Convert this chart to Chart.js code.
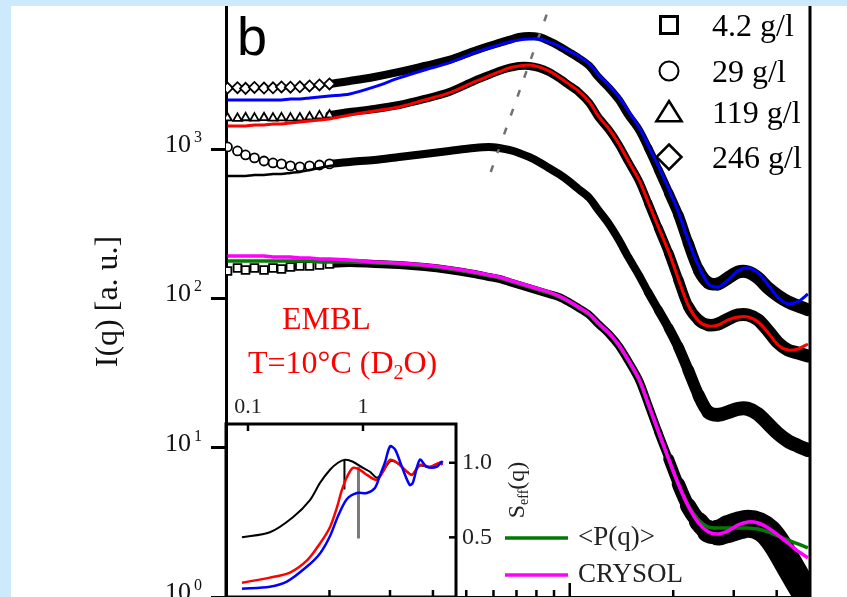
<!DOCTYPE html>
<html>
<head>
<meta charset="utf-8">
<title>I(q) – EMBL, T=10°C (D2O)</title>
<script src="https://cdn.jsdelivr.net/npm/chart.js@4/dist/chart.umd.min.js"></script>
<style>
  html, body { margin: 0; padding: 0; width: 847px; height: 597px; overflow: hidden; background: #cdeafc; }
  #panel { position: absolute; left: 11px; top: 6px; width: 836px; height: 591px; background: #fff; }
  #inset { position: absolute; left: 180px; top: 380px; }
  #main  { position: absolute; left: 11px; top: 6px; }
</style>
</head>
<body>
<div id="panel"></div>
<canvas id="inset" width="400" height="240"></canvas>
<canvas id="main" width="836" height="620"></canvas>
<script>
// ---- scattering vector q (nm^-1), shared by measured curves and models ----
const q = [0.101,0.108,0.114,0.121,0.129,0.137,0.145,0.154,0.164,0.175,0.187,0.200,
           0.229,0.270,0.319,0.378,0.446,0.527,
           0.582,0.623,0.666,0.712,0.761,0.813,0.869,0.929,0.993,1.06,1.14,
           1.21,1.30,1.39,1.48,1.59,1.69,1.81,1.94,2.07,2.21,
           2.37,2.53,2.70,2.89,3.09,3.30,3.53,3.78,4.04,4.31,4.61,4.93];

// ---- measured intensities I(q) (a.u.) ----
const i246 = [2560,2575,2550,2585,2560,2570,2606,2595,2610,2647,2688,2729,
              2858,3040,3284,3602,3952,4541,
              4904,5136,5379,5634,5721,5634,5297,4904,4471,4076,3602,
              3040,2566,2133,1692,1342,1017,724,508,362,235,
              155,127,125,137,150,150,137,117,104,95,89,84];
const i119 = [1616,1605,1620,1610,1622,1612,1618,1610,1616,1641,1667,1692,
              1772,1856,1974,2166,2413,2858,
              3135,3335,3493,3602,3602,3493,3284,2994,2688,2413,2036,
              1641,1342,1065,820,611,436,296,201,133,88.9,
              71.7,66.3,67.4,72.8,77.4,77.4,71.7,60.5,50.3,45.1,43.1,41.1];
const i29  = [1033,971,913,872,832,807,795,771,759,771,782,795,
              820,845,885,927,971,1017,
              1033,1017,986,942,885,820,747,681,611,540,471,
              391,315,246,189,143,110,83.6,63.3,47.3,33.2,
              22.5,17.3,16.6,17.3,18.2,18.2,16.8,14.4,12.4,11.1,10.3,9.65];
const i4   = [152.6,159.8,155.0,159.8,155.0,159.8,157.4,162.3,164.8,164.8,167.4,170.0,
              172.6,170.0,167.4,162.3,155.0,145.7,
              139.1,134.9,128.8,122.9,117.4,112.1,107.0,102.2,94.6,86.3,77.4,
              67.4,57.8,48.0,38.1,28.4,19.6,12.7,8.40,5.71,4.07,
              3.20,2.75,2.70,2.85,3.00,3.10,3.00,2.70,2.20,1.70,1.30,1.0];

// ---- model curves ----
const fit246 = [2133,2133,2133,2133,2133,2133,2133,2166,2166,2199,2234,2268,
                2339,2606,2994,3386,3774,4403,
                4756,4981,5216,5379,5463,5463,5216,4904,4541,4204,3715,
                3159,2688,2234,1800,1406,1065,771,540,379,246,
                165,125,119,133,153,160,148,123,101,92,95,107];
const fit119 = [1428,1428,1428,1450,1450,1473,1473,1495,1519,1542,1566,1591,
                1692,1800,1914,2133,2375,2814,
                3087,3284,3493,3602,3659,3548,3335,3040,2729,2450,2068,
                1667,1363,1082,832,621,442,301,205,135,90.3,
                70.6,65.3,66.3,71.7,75.1,75.1,69.5,58.7,48.7,45.1,45.8,49.5];
const fit29  = [660,660,660,671,671,681,681,692,703,724,747,771,
                807,845,885,927,971,1017,
                1033,1017,986,942,885,820,747,681,611,540,471,
                391,315,246,189,143,110,83.6,63.3,47.3,33.2,
                22.5,17.3,16.6,17.3,18.2,18.2,16.8,14.4,12.4,11.1,10.3,9.65];
const formFactor = [178.1,178.1,178.1,178.1,178.1,178.1,178.1,178.1,178.1,178.1,175.3,175.3,
                    175.3,172.6,170.0,164.8,157.4,148.0,
                    141.3,136.9,130.8,124.9,119.2,113.8,108.7,102.2,94.6,86.3,77.4,
                    67.4,57.8,48.0,38.1,28.4,19.6,12.7,8.40,5.71,4.13,
                    3.28,2.94,2.90,2.90,2.90,2.90,2.85,2.73,2.56,2.41,2.27,2.13];
const crysol = [192.3,192.3,192.3,192.3,192.3,189.4,189.4,189.4,186.5,186.5,183.6,183.6,
                180.8,175.3,172.6,167.4,159.8,150.2,
                143.5,139.1,132.8,126.8,121.1,115.6,110.4,103.8,96.1,87.6,78.6,
                68.4,58.7,48.7,38.7,28.9,19.9,12.9,8.40,5.71,4.07,
                3.13,2.73,2.64,2.77,3.04,3.18,3.13,2.90,2.60,2.30,2.03,1.83];

// peak-position guide
const qShift = [0.589, 0.866];
const iShift = [702, 8530];

// ---- inset: effective structure factor S_eff(q) ----
const qS29  = [0.0887,0.155,0.246,0.346,0.423,0.517,0.606,0.698,0.818,1.0,1.15,1.32,1.49,1.72,1.98,2.42,2.67,3.12,3.82,4.65,4.92];
const s29   = [0.50,0.534,0.635,0.75,0.865,0.953,1.0,1.02,1.007,0.966,0.94,0.90,0.94,1.01,1.0,0.94,0.92,0.98,0.97,1.0,0.99];
const qS119 = [0.0887,0.155,0.232,0.326,0.423,0.516,0.595,0.656,0.726,0.818,0.940,1.08,1.32,1.49,1.72,1.98,2.42,2.67,3.12,3.82,4.65,4.92];
const s119  = [0.196,0.23,0.264,0.345,0.459,0.568,0.703,0.818,0.905,0.966,0.953,0.919,0.885,0.939,1.02,1.0,0.939,0.919,0.986,0.973,1.0,0.986];
const qS246 = [0.0887,0.155,0.218,0.326,0.423,0.516,0.606,0.726,0.887,1.08,1.27,1.40,1.55,1.72,1.90,2.18,2.55,2.71,3.12,3.59,4.39,4.83,4.92];
const s246  = [0.155,0.169,0.203,0.304,0.392,0.507,0.642,0.757,0.797,0.797,0.831,0.912,1.0,1.11,1.09,0.973,0.851,0.865,1.02,0.973,0.973,1.007,1.0];
const qPeakMark = [0.69, 0.69];  const sPeakMark = [1.02, 0.82];
const qPeakMark2 = [0.914, 0.914]; const sPeakMark2 = [0.973, 0.493];

const concLabels = ['4.2 g/l', '29 g/l', '119 g/l', '246 g/l'];
const SERIF = 'Liberation Serif';
Chart.defaults.font.family = SERIF;
Chart.defaults.color = '#000';

const pts = (xs, ys) => xs.map((x, i) => ({ x, y: ys[i] }));
const isDecade = v => Math.abs(Math.log10(v) - Math.round(Math.log10(v))) < 1e-6;
const isStep = v => {
  const e = Math.floor(Math.log10(v) + 1e-9);
  const m = v / Math.pow(10, e);
  return Math.abs(m - Math.round(m)) < 1e-6;
};
const clamp01 = v => Math.min(1, Math.max(0, v));
function seg(ctx, x1, y1, x2, y2) { ctx.beginPath(); ctx.moveTo(x1, y1); ctx.lineTo(x2, y2); ctx.stroke(); }

function shape(ctx, style, x, y, r) {
  ctx.beginPath();
  if (style === 'rect') ctx.rect(x - r, y - r, 2 * r, 2 * r);
  else if (style === 'circle') ctx.arc(x, y, r, 0, Math.PI * 2);
  else if (style === 'triangle') { ctx.moveTo(x, y - r); ctx.lineTo(x + r * 1.15, y + r * 0.85); ctx.lineTo(x - r * 1.15, y + r * 0.85); ctx.closePath(); }
  else if (style === 'rectRot') { ctx.moveTo(x, y - r); ctx.lineTo(x + r, y); ctx.lineTo(x, y + r); ctx.lineTo(x - r, y); ctx.closePath(); }
  ctx.fill(); ctx.stroke();
}

const MARK_Q = 0.205;   // below this q the individual symbols are visible
// the scatter of the points widens the measured band at large q
function measured(label, values, style, radius, order, spread, spreadFrom) {
  return {
    label, data: pts(q, values), order,
    borderColor: '#000', borderWidth: 8, tension: 0.3, fill: false,
    borderJoinStyle: 'round', borderCapStyle: 'round',
    pointStyle: style,
    pointRadius: c => (c.raw && c.raw.x < MARK_Q ? radius : 0),
    pointBackgroundColor: '#fff', pointBorderColor: '#000', pointBorderWidth: 1.8,
    segment: {
      borderColor: c => (c.p1.parsed.x <= MARK_Q ? 'rgba(0,0,0,0)' : '#000'),
      borderWidth: c => 8 + spread * clamp01((c.p0.parsed.x - spreadFrom) / 1.0)
    }
  };
}
function model(label, values, color, width, order) {
  return { label, data: pts(q, values), order, borderColor: color, borderWidth: width,
           tension: 0.3, pointRadius: 0, fill: false };
}

const mainDecor = {
  id: 'mainDecor',
  afterDatasetsDraw(chart) {
    const { ctx, chartArea: a, scales: { x, y } } = chart;
    const ds = chart.data.datasets;
    ctx.save();
    ctx.strokeStyle = '#000';
    ctx.lineCap = 'butt';
    // minor ticks of the intensity axis (outside) and decade exponents
    ctx.lineWidth = 3;
    ctx.fillStyle = '#111';
    ctx.textAlign = 'left';
    ctx.textBaseline = 'alphabetic';
    ctx.font = '16px ' + SERIF;
    y.ticks.forEach(t => {
      if (!isStep(t.value)) return;
      const py = y.getPixelForValue(t.value);
      if (py < a.top - 1 || py > a.bottom + 1) return;
      if (isDecade(t.value)) {
        ctx.fillText(String(Math.round(Math.log10(t.value))), a.left - 32, py - 7);
      } else {
        seg(ctx, a.left - 8, py, a.left, py);
      }
    });
    // the next decade label sits just above the top edge
    const topDecade = Math.pow(10, Math.ceil(Math.log10(y.max)));
    const pTop = y.getPixelForValue(topDecade);
    ctx.font = '26px ' + SERIF;
    ctx.textAlign = 'right';
    ctx.textBaseline = 'middle';
    ctx.fillText('10', a.left - 35, pTop - 2);
    ctx.textAlign = 'left';
    ctx.textBaseline = 'alphabetic';

    // q-axis ticks (inside)
    ctx.lineWidth = 2.5;
    x.ticks.forEach(t => {
      if (!isStep(t.value)) return;
      const px = x.getPixelForValue(t.value);
      if (px <= a.left + 2 || px >= a.right - 2) return;
      seg(ctx, px, a.bottom, px, a.bottom - (isDecade(t.value) ? 14 : 7));
    });
    // right frame
    ctx.lineWidth = 3;
    seg(ctx, a.right, a.top, a.right, a.bottom);

    // panel letter
    ctx.fillStyle = '#000';
    ctx.font = '54px "Liberation Sans"';
    ctx.fillText('b', 226, 49);

    // concentration legend
    const rows = [
      { style: 'rect', r: 8.5, lw: 3, y: 19 },
      { style: 'circle', r: 9.5, lw: 2, y: 65 },
      { style: 'triangle', r: 11, lw: 2.5, y: 106 },
      { style: 'rectRot', r: 12.5, lw: 2.5, y: 151 }
    ];
    ctx.font = '32px ' + SERIF;
    rows.forEach((row, i) => {
      ctx.fillStyle = '#fff'; ctx.strokeStyle = '#000'; ctx.lineWidth = row.lw;
      shape(ctx, row.style, 658, row.y, row.r);
      ctx.fillStyle = '#000';
      ctx.fillText(concLabels[i], 701, row.y + 11);
    });

    // conditions
    ctx.fillStyle = '#f00';
    ctx.font = '32px ' + SERIF;
    ctx.fillText('EMBL', 271, 323);
    let tx = 237;
    const tBase = 367;
    ctx.fillText('T=10°C (D', tx, tBase);
    tx += ctx.measureText('T=10°C (D').width;
    ctx.font = '20px ' + SERIF;
    ctx.fillText('2', tx, tBase + 6);
    tx += ctx.measureText('2').width;
    ctx.font = '32px ' + SERIF;
    ctx.fillText('O)', tx, tBase);

    // model legend
    const modelRows = [ds.find(d => d.label === '<P(q)>'), ds.find(d => d.label === 'CRYSOL')];
    const ly = [532, 569];
    ctx.font = '27px ' + SERIF;
    ctx.textBaseline = 'middle';
    modelRows.forEach((d, i) => {
      ctx.strokeStyle = d.borderColor; ctx.lineWidth = 3.5;
      seg(ctx, 494, ly[i], 557, ly[i]);
      ctx.fillStyle = '#222';
      ctx.fillText(d.label, 567, ly[i]);
    });
    ctx.restore();
  }
};

new Chart(document.getElementById('main'), {
  type: 'line',
  data: {
    datasets: [
      model('CRYSOL', crysol, '#ff00ff', 3.5, 0),
      model('<P(q)>', formFactor, '#007a00', 3.5, 1),
      model('fit 246 g/l', fit246, '#0000ff', 3, 2),
      model('fit 119 g/l', fit119, '#ff0000', 3, 3),
      model('fit 29 g/l', fit29, '#000000', 2.5, 4),
      { label: 'peak shift', data: pts(qShift, iShift), order: 5, borderColor: '#707070',
        borderWidth: 2.5, borderDash: [7, 13], pointRadius: 0, fill: false },
      measured('246 g/l', i246, 'rectRot', 5.5, 10, 5, 1.6),
      measured('119 g/l', i119, 'triangle', 5, 11, 5, 1.6),
      measured('29 g/l', i29, 'circle', 4.5, 12, 6, 1.6),
      measured('4.2 g/l', i4, 'rect', 5.5, 13, 20, 1.8)
    ]
  },
  options: {
    responsive: false,
    animation: false,
    events: [],
    layout: { autoPadding: false, padding: { left: 0, top: 0, right: 37, bottom: 0 } },
    plugins: { legend: { display: false }, tooltip: { enabled: false } },
    scales: {
      x: {
        type: 'logarithmic', min: 0.1, max: 5,
        afterFit: s => { s.height = 29; s.paddingLeft = 0; s.paddingRight = 0; },
        grid: { display: false, drawTicks: false },
        border: { display: true, color: '#000', width: 3 },
        ticks: { display: false }
      },
      y: {
        type: 'logarithmic', min: 1, max: 9080,
        afterFit: s => { s.width = 215; s.paddingTop = 0; s.paddingBottom = 0; },
        grid: {
          drawOnChartArea: false, drawTicks: true, tickLength: 15, tickWidth: 3,
          tickColor: c => (c.tick && isDecade(c.tick.value) ? '#000' : 'rgba(0,0,0,0)')
        },
        border: { display: true, color: '#000', width: 3 },
        ticks: {
          autoSkip: false, padding: 20, labelOffset: -4, color: '#111',
          font: { family: SERIF, size: 26 },
          callback: v => (isDecade(v) ? '10' : null)
        },
        title: {
          display: true, text: 'I(q) [a. u.]', color: '#111',
          font: { family: SERIF, size: 32 }, padding: { top: 78, bottom: 0 }
        }
      }
    }
  },
  plugins: [mainDecor]
});

// ---- inset chart ----
const insetDecor = {
  id: 'insetDecor',
  beforeDraw(chart) {
    const { ctx, chartArea: a } = chart;
    ctx.save();
    ctx.fillStyle = '#fff';
    ctx.fillRect(a.left, a.top, a.right - a.left, a.bottom - a.top);
    ctx.restore();
  },
  afterDraw(chart) {
    const { ctx, chartArea: a, scales: { x, y } } = chart;
    ctx.save();
    ctx.strokeStyle = '#000';
    ctx.lineWidth = 3;
    ctx.strokeRect(a.left, a.top, a.right - a.left, a.bottom - a.top);
    ctx.lineWidth = 2.5;
    x.ticks.forEach(t => {
      if (!isStep(t.value)) return;
      const px = x.getPixelForValue(t.value);
      if (px <= a.left + 2 || px >= a.right - 2) return;
      seg(ctx, px, a.top, px, a.top + (isDecade(t.value) ? 7 : 4));
    });
    y.ticks.forEach(t => {
      const py = y.getPixelForValue(t.value);
      if (py <= a.top + 2 || py >= a.bottom - 2) return;
      const major = Math.abs(t.value * 2 - Math.round(t.value * 2)) < 1e-6;
      seg(ctx, a.right, py, a.right - (major ? 7 : 4), py);
    });
    // S_eff(q) axis title
    ctx.translate(a.right + 62, a.top + 66);
    ctx.rotate(-Math.PI / 2);
    ctx.fillStyle = '#222';
    ctx.textBaseline = 'middle';
    ctx.textAlign = 'left';
    const parts = [['S', 24, 0], ['eff', 14, 6], ['(q)', 24, 0]];
    let w = 0;
    parts.forEach(([t, s]) => { ctx.font = s + 'px ' + SERIF; w += ctx.measureText(t).width; });
    let cx = -w / 2;
    parts.forEach(([t, s, dy]) => {
      ctx.font = s + 'px ' + SERIF;
      ctx.fillText(t, cx, dy);
      cx += ctx.measureText(t).width;
    });
    ctx.restore();
  }
};

new Chart(document.getElementById('inset'), {
  type: 'line',
  data: {
    datasets: [
      { label: 'S 246 g/l', data: pts(qS246, s246), borderColor: '#0000ff', borderWidth: 2.5, tension: 0.3, pointRadius: 0 },
      { label: 'S 119 g/l', data: pts(qS119, s119), borderColor: '#ff0000', borderWidth: 2.5, tension: 0.3, pointRadius: 0 },
      { label: 'S 29 g/l', data: pts(qS29, s29), borderColor: '#000000', borderWidth: 2, tension: 0.3, pointRadius: 0 },
      { label: 'peak 29 g/l', data: pts(qPeakMark, sPeakMark), borderColor: '#000000', borderWidth: 2, pointRadius: 0 },
      { label: 'peak 119 g/l', data: pts(qPeakMark2, sPeakMark2), borderColor: '#7a7a7a', borderWidth: 3, pointRadius: 0 }
    ]
  },
  options: {
    responsive: false,
    animation: false,
    events: [],
    layout: { autoPadding: false, padding: { left: 46, top: 0, right: 0, bottom: 23 } },
    plugins: { legend: { display: false }, tooltip: { enabled: false } },
    scales: {
      x: {
        type: 'logarithmic', position: 'top', min: 0.0644, max: 6.44,
        afterFit: s => { s.height = 44; s.paddingLeft = 0; s.paddingRight = 0; },
        grid: { display: false, drawTicks: false },
        border: { display: false },
        ticks: {
          autoSkip: false, maxRotation: 0, padding: 4, color: '#222',
          font: { family: SERIF, size: 22 },
          callback: v => (Math.abs(v - 0.1) < 1e-9 ? '0.1' : Math.abs(v - 1) < 1e-9 ? '1' : null)
        }
      },
      y: {
        type: 'linear', position: 'right', min: 0.1, max: 1.26,
        afterFit: s => { s.width = 124; s.paddingTop = 0; s.paddingBottom = 0; },
        grid: { display: false, drawTicks: false },
        border: { display: false },
        ticks: {
          stepSize: 0.1, includeBounds: false, autoSkip: false, padding: 6, color: '#222',
          font: { family: SERIF, size: 24 },
          callback: v => (Math.abs(v - 1) < 1e-6 ? '1.0' : Math.abs(v - 0.5) < 1e-6 ? '0.5' : null)
        }
      }
    }
  },
  plugins: [insetDecor]
});
</script>
</body>
</html>
